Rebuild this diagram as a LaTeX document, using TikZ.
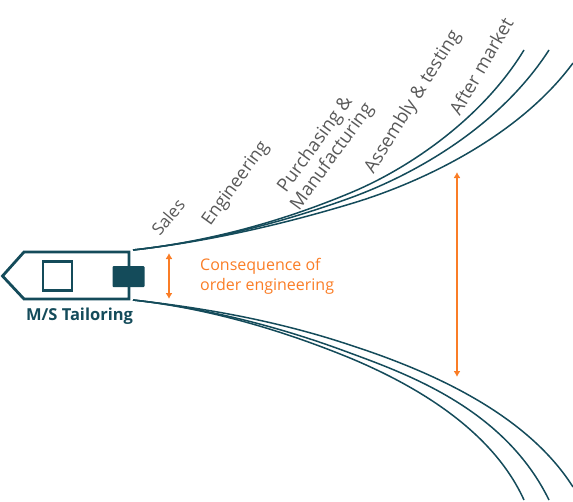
\documentclass[tikz,border=0pt]{standalone}
\usepackage{fontspec}
\setmainfont{Open Sans}
\usetikzlibrary{arrows.meta}
\definecolor{teal1}{HTML}{144B5A}
\definecolor{orng}{HTML}{FA7D26}
\definecolor{gry}{HTML}{595959}
\tikzset{
  x=1pt,y=-1pt,
  hull/.style={draw=teal1,line width=2.8pt,line join=miter},
  wake/.style={draw=teal1,line width=1.5pt},
  dim/.style={draw=orng,line width=2pt,{Latex[length=6pt,width=7pt]}-{Latex[length=6pt,width=7pt]}},
  dept/.style={text=gry,align=center,inner sep=0pt},
  note/.style={text=orng,font=\fontsize{16}{20}\selectfont,align=left,anchor=north west,inner sep=0pt},
}
\begin{document}
\begin{tikzpicture}
\useasboundingbox (0,0) rectangle (573,501);
% upper wake
\draw[wake] (133,250) .. controls (205,242) and (278,223) .. (350,193) .. controls (408,169) and (482,119) .. (524,50);
\draw[wake] (133,250) .. controls (205,242) and (278,224) .. (350,198) .. controls (416,174) and (500,126) .. (549,50);
\draw[wake] (133,250) .. controls (205,242) and (278,225.6) .. (350,204) .. controls (424,182) and (520,135) .. (573,63);
% lower wake
\draw[wake] (133,300) .. controls (205,308) and (278,321) .. (350,345) .. controls (424,369) and (525,411) .. (573,487);
\draw[wake] (133,300) .. controls (205,308) and (278,326) .. (350,353) .. controls (410,375) and (505,410) .. (549,500);
\draw[wake] (133,300) .. controls (205,308) and (278,328.5) .. (350,358) .. controls (405,381) and (490,425) .. (524,500);
\draw[hull] (129,252) -- (24,252) -- (2.5,276) -- (24,299) -- (129,299) -- cycle;
\node[draw=teal1,line width=2.8pt,minimum width=29pt,minimum height=29pt,inner sep=0pt] (sq) at (57.5,276) {};
\node[fill=teal1,rounded corners=1pt,minimum width=32pt,minimum height=21pt,inner sep=0pt] (eng) at (128.5,276.5) {};
\node[text=teal1,font=\fontsize{16.5}{20}\selectfont\bfseries,inner sep=0pt] (name) at (79.5,316) {M/S Tailoring};
\coordinate (a1) at (169,253); \coordinate (a2) at (169,299);
\coordinate (a3) at (457,172); \coordinate (a4) at (457,377);
\draw[dim] (a1) -- (a2);
\draw[dim] (a3) -- (a4);
\node[note] (c) at (200,258) {Consequence of\\order engineering};
\node[dept,rotate=50,font=\fontsize{17}{20}\selectfont] (s) at (168,217) {Sales};
\node[dept,rotate=54,font=\fontsize{18}{20}\selectfont] (e) at (236,184) {Engineering};
\node[dept,rotate=54,font=\fontsize{18.5}{21}\selectfont] (p) at (324,151) {Purchasing \&\\Manufacturing};
\node[dept,rotate=58,font=\fontsize{18.5}{20}\selectfont] (a) at (413,102) {Assembly \& testing};
\node[dept,rotate=60,font=\fontsize{18.5}{20}\selectfont] (m) at (481,66) {After market};
\end{tikzpicture}
\end{document}
